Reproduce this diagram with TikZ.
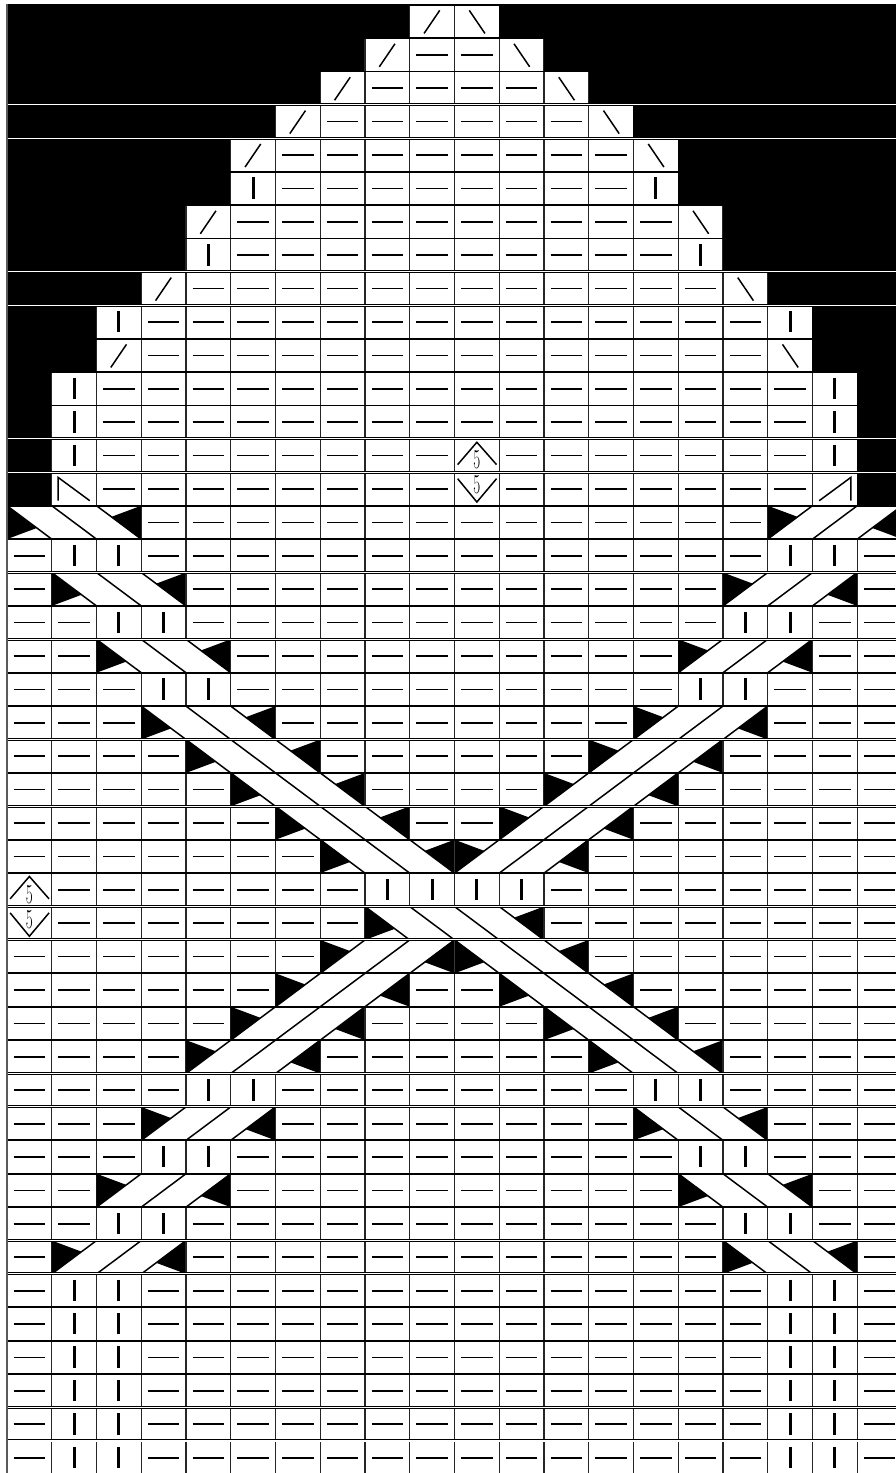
\documentclass[tikz,border=0pt]{standalone}
\usepackage{graphicx}
\newcount\colno
\tikzset{
    cell/.style={shift={(\the\colno,\rownum)}},
    gridline/.style={line width=.85pt,black!85},
    rowline/.style={line width=1.25pt,black},
    rowgap/.style={line width=.7pt,white},
    purl/.style={line width=1.1pt,black},
    knit/.style={line width=1.9pt,black},
    slant/.style={line width=.95pt,black},
    fivelab/.style={inner sep=0pt,font=\fontsize{17.5}{18}\selectfont}
}
% one letter per stitch, read from left to right
\def\chartcells#1{\ifx#1\relax\else\csname cell#1\endcsname\advance\colno by 1 \expandafter\chartcells\fi}
\def\cellsides{\draw[cell,gridline] (0,0) -- (0,1) (1,0) -- (1,1);}
\def\cellb{\fill[cell,black] (0,0) rectangle (1,1);}
\def\cellp{\cellsides\draw[cell,purl] (.15,.5) -- (.85,.5);}
\def\cellk{\cellsides\draw[cell,knit] (.5,.17) -- (.5,.81);}
\def\celll{\cellsides\draw[cell,slant] (.32,.86) -- (.67,.17);}
\def\cellr{\cellsides\draw[cell,slant] (.68,.86) -- (.33,.17);}
\def\cellq{\cellsides\draw[cell,slant] (.14,.85) -- (.14,.15) -- (.85,.85);}
\def\cellQ{\cellsides\draw[cell,slant] (.86,.85) -- (.86,.15) -- (.15,.85);}
\def\cellu{\cellsides\draw[cell,slant] (.07,.77) -- (.5,.1) -- (.94,.77);
    \node[cell,fivelab] (fiveup\the\colno) at (.5,.63) {\scalebox{.55}[1]{5}};}
\def\celld{\cellsides\draw[cell,slant] (.07,.19) -- (.5,.89) -- (.94,.19);
    \node[cell,fivelab] (fivedown\the\colno) at (.5,.38) {\scalebox{.55}[1]{5}};}
% cable of #1 stitches leaning down to the right
\def\cablebody#1{
    \fill (0,0) -- (0,1) -- (2/3,2/3) -- cycle;
    \fill (#1,0) -- (#1,1) -- (#1-2/3,1/3) -- cycle;
    \foreach \i in {1,...,#1} \draw[slant] (\i-1,0) -- (\i,1);
}
\def\cellx{\begin{scope}[cell]\cablebody{3}\end{scope}\advance\colno by 2 }
\def\celly{\begin{scope}[cell,xshift=3cm,xscale=-1]\cablebody{3}\end{scope}\advance\colno by 2 }
\def\cellz{\begin{scope}[cell]\cablebody{4}\end{scope}\advance\colno by 3 }

\begin{document}
\begin{tikzpicture}[x=1cm,y=-0.7464cm,line cap=butt]

% --- page: 896 x 1473, one column is 44.75 px, one row 33.4 px ---
    \useasboundingbox (-.1564,-.1407) rectangle (19.866,43.96);
    \clip (-.1564,-.1407) rectangle (19.866,43.96);
    \fill[white] (-.1564,-.1407) rectangle (19.866,43.96);

% stitches, row by row
    \foreach \rowcells [count=\rownum from 0] in {
        bbbbbbbbblrbbbbbbbbb,
        bbbbbbbblpprbbbbbbbb,
        bbbbbbblpppprbbbbbbb,
        bbbbbblpppppprbbbbbb,
        bbbbblpppppppprbbbbb,
        bbbbbkppppppppkbbbbb,
        bbbblpppppppppprbbbb,
        bbbbkppppppppppkbbbb,
        bbblpppppppppppprbbb,
        bbkppppppppppppppkbb,
        bblpppppppppppppprbb,
        bkppppppppppppppppkb,
        bkppppppppppppppppkb,
        bkppppppppupppppppkb,
        bqppppppppdpppppppQb,
        xppppppppppppppy,
        pkkppppppppppppppkkp,
        pxppppppppppppyp,
        ppkkppppppppppppkkpp,
        ppxppppppppppypp,
        pppkkppppppppppkkppp,
        pppxppppppppyppp,
        ppppxppppppypppp,
        pppppxppppyppppp,
        ppppppxppypppppp,
        pppppppxyppppppp,
        upppppppkkkkpppppppp,
        dpppppppzpppppppp,
        pppppppyxppppppp,
        ppppppyppxpppppp,
        pppppyppppxppppp,
        ppppyppppppxpppp,
        ppppkkppppppppkkpppp,
        pppyppppppppxppp,
        pppkkppppppppppkkppp,
        ppyppppppppppxpp,
        ppkkppppppppppppkkpp,
        pyppppppppppppxp,
        pkkppppppppppppppkkp,
        pkkppppppppppppppkkp,
        pkkppppppppppppppkkp,
        pkkppppppppppppppkkp,
        pkkppppppppppppppkkp,
        pkkppppppppppppppkkp} {
        \colno=0
        \expandafter\chartcells\rowcells\relax
    }

% lines between the rows, some of them split by a white gap
    \foreach \b in {0,...,43}
        \draw[rowline] (0,\b) -- (20,\b);
    \foreach \b in {3,4,8,9,13,14,17,19,22,24,27,28,32,33,37,38,42,43} {
        \draw[rowline,line width=1.9pt] (0,\b) -- (20,\b);
        \draw[rowgap] (0,\b) -- (20,\b);
    }

% outer edge on the left
    \draw[line width=1.2pt,black!65] (0,-.02) -- (0,44);

\end{tikzpicture}
\end{document}
